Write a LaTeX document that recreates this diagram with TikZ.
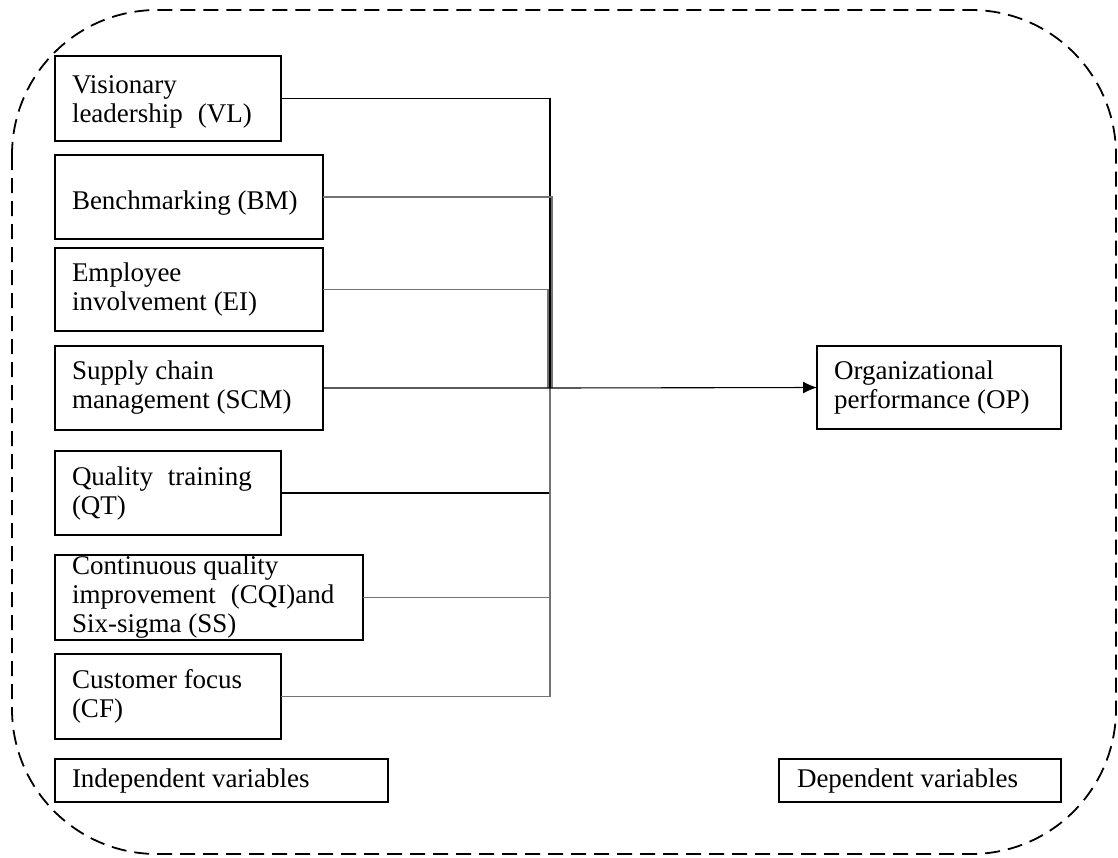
\documentclass[tikz,border=0pt]{standalone}
\usepackage{fontspec}
\setmainfont{Liberation Serif}
\usetikzlibrary{arrows.meta}
\newcommand{\bx}[3]{\parbox[c][#2][c]{\dimexpr #1-34pt\relax}{\raggedright #3}}
\tikzset{
  var/.style={draw, line width=1.5pt, inner xsep=17pt, inner ysep=0pt, outer sep=0pt,
    anchor=north west, font=\fontsize{27}{29}\selectfont},
  link/.style={line width=1.1pt, black},
  glink/.style={line width=1.1pt, black!55},
  frame/.style={line width=1.8pt, dash pattern=on 15pt off 8pt, rounded corners=145pt}
}
\begin{document}
\begin{tikzpicture}[x=1pt, y=-1pt]
\useasboundingbox (0,0) rectangle (1118,857);
\draw[frame] (12,10) rectangle (1116,854);

\node[var] (VL)  at (55,56)  {\bx{226pt}{85pt}{\vspace{6pt}Visionary\\leadership\hspace{0.3em} (VL)}};
\node[var] (BM)  at (55,155) {\bx{268pt}{84pt}{\vspace{12pt}Benchmarking (BM)}};
\node[var] (EI)  at (55,248) {\bx{268pt}{83pt}{Employee\\involvement (EI)}};
\node[var] (SCM) at (55,346) {\bx{268pt}{84pt}{Supply chain\\management (SCM)}};
\node[var] (QT)  at (55,451) {\bx{226pt}{84pt}{Quality\hspace{0.3em} training\\(QT)}};
\node[var] (CQI) at (55,555) {\bx{308pt}{85pt}{Continuous quality\\improvement\hspace{0.3em} (CQI)and\\Six-sigma (SS)}};
\node[var] (CF)  at (55,654) {\bx{226pt}{85pt}{Customer focus\\(CF)}};
\node[var] (IV)  at (55,759) {\bx{333pt}{43pt}{Independent variables}};
\node[var] (OP)  at (817,346) {\bx{244pt}{83pt}{Organizational\\performance (OP)}};
\node[var, inner xsep=18pt] (DV) at (779,759) {\parbox[c][43pt][c]{246pt}{Dependent variables}};

\coordinate (j) at (550,388);
\draw[link]  (VL.east) -| (j);
\draw[glink] (BM.east) -| ([xshift=2pt]j);
\draw[glink] (EI.east) -| ([xshift=-2pt]j);
\draw[link]  (QT.east) -| (j);
\draw[glink] (CQI.east) -| (j);
\draw[glink] (CF.east) -| (j);
\draw[link, -{Latex[length=14pt,width=12pt]}] (SCM.east) -- (j) -- (OP.west);
\end{tikzpicture}
\end{document}
